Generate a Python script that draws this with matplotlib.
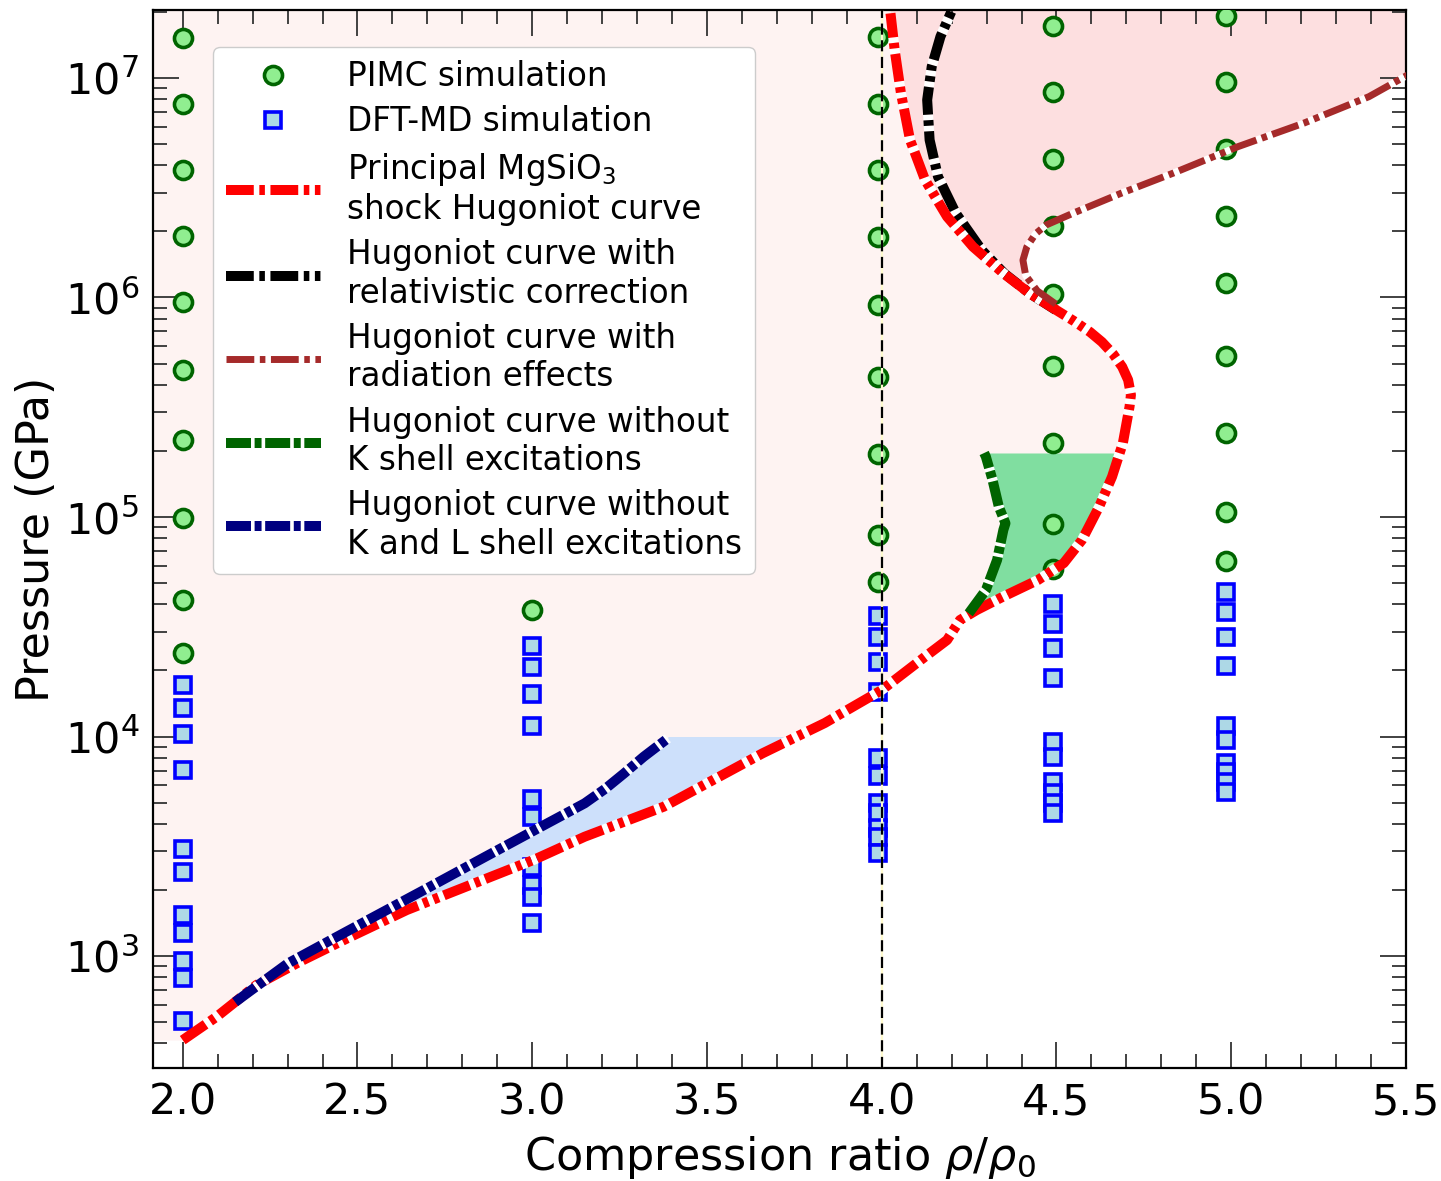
import numpy as np
import matplotlib
matplotlib.use('Agg')
import matplotlib.pyplot as plt
from matplotlib.ticker import MultipleLocator, LogLocator, NullFormatter

# ---------------- data ----------------
# PIMC simulation points (compression ratio, pressure in GPa)
pimc_rho_2 = 2.0
pimc_P_2 = [1.52e7, 7.61e6, 3.81e6, 1.91e6, 9.54e5, 4.67e5, 2.24e5, 9.89e4, 4.19e4, 2.40e4]
pimc_rho_3 = 3.0
pimc_P_3 = [3.77e4]
pimc_rho_4 = 3.99
pimc_P_4 = [1.53e7, 7.64e6, 3.81e6, 1.89e6, 9.27e5, 4.36e5, 1.94e5, 8.28e4, 5.04e4]
pimc_rho_45 = 4.49
pimc_P_45 = [1.73e7, 8.60e6, 4.29e6, 2.12e6, 1.04e6, 4.87e5, 2.17e5, 9.29e4, 5.80e4]
pimc_rho_5 = 4.985
pimc_P_5 = [1.92e7, 9.56e6, 4.75e6, 2.36e6, 1.16e6, 5.43e5, 2.41e5, 1.05e5, 6.30e4]

# DFT-MD simulation points
dft_rho_2 = 2.0
dft_P_2 = [1.72e4, 1.35e4, 1.03e4, 7.06e3, 3.07e3, 2.41e3, 1.54e3, 1.27e3, 949, 794, 506]
dft_rho_3 = 3.0
dft_P_3 = [2.59e4, 2.08e4, 1.57e4, 1.12e4, 5.19e3, 4.28e3, 2.55e3, 2.11e3, 1.85e3, 1.41e3]
dft_rho_4 = 3.99
dft_P_4 = [3.54e4, 2.85e4, 2.19e4, 1.59e4, 7.96e3, 6.63e3, 4.96e3, 4.47e3, 3.83e3, 3.50e3, 2.94e3]
dft_rho_45 = 4.49
dft_P_45 = [4.01e4, 3.25e4, 2.52e4, 1.84e4, 9.47e3, 8.04e3, 6.18e3, 5.55e3, 4.99e3, 4.47e3]
dft_rho_5 = 4.985
dft_P_5 = [4.54e4, 3.68e4, 2.85e4, 2.10e4, 1.12e4, 9.64e3, 7.55e3, 6.91e3, 6.23e3, 5.60e3]

# Principal Hugoniot curve
red_rho = [2.000, 2.097, 2.211, 2.335, 2.471, 2.641, 2.810, 3.003, 3.150, 3.376, 3.659, 3.837,
           4.000, 4.124, 4.187, 4.224, 4.272, 4.347, 4.447, 4.521, 4.573, 4.622, 4.659, 4.690,
           4.709, 4.713, 4.705, 4.688, 4.662, 4.630, 4.596, 4.550, 4.499, 4.423, 4.348, 4.261,
           4.187, 4.124, 4.081, 4.055, 4.037, 4.025]
red_P = [414, 529, 738, 942, 1204, 1620, 2069, 2737, 3495, 4788, 8385, 11520,
         16280, 23100, 27520, 33950, 37700, 43350, 51640, 61720, 78590, 1.114e5, 1.526e5, 2.174e5,
         3.18e5, 3.60e5, 4.21e5, 4.83e5, 5.53e5, 6.27e5, 6.96e5, 7.81e5, 8.77e5, 1.045e6, 1.289e6, 1.703e6,
         2.334e6, 3.43e6, 5.22e6, 8.52e6, 1.342e7, 1.971e7]

# Hugoniot with relativistic correction
black_rho = [4.498, 4.423, 4.350, 4.286, 4.212, 4.161, 4.137, 4.130, 4.143, 4.168, 4.199]
black_P = [8.77e5, 1.045e6, 1.289e6, 1.645e6, 2.419e6, 3.551e6, 5.22e6, 7.94e6, 1.126e7, 1.543e7, 2.004e7]

# Hugoniot with radiation effects
brown_rho = [4.498, 4.445, 4.412, 4.404, 4.415, 4.440, 4.470, 4.547, 4.685, 4.833, 5.019, 5.207, 5.394, 5.505]
brown_P = [9.33e5, 1.072e6, 1.259e6, 1.479e6, 1.698e6, 1.950e6, 2.138e6, 2.419e6, 2.984e6, 3.68e6,
           4.864e6, 6.22e6, 8.22e6, 1.032e7]

# Hugoniot without K shell excitations
green_rho = [4.249, 4.298, 4.330, 4.348, 4.354, 4.335, 4.317, 4.298, 4.293]
green_P = [3.64e4, 4.65e4, 6.37e4, 8.73e4, 9.36e4, 1.114e5, 1.475e5, 1.882e5, 1.957e5]

# Hugoniot without K and L shell excitations
navy_rho = [2.150, 2.188, 2.301, 2.415, 2.539, 2.698, 2.867, 3.014, 3.150, 3.208, 3.263, 3.319, 3.388]
navy_P = [617, 684, 926, 1162, 1485, 2030, 2840, 3797, 4962, 5766, 6797, 8091, 9813]

labels = ["PIMC simulation", "DFT-MD simulation",
          "Principal MgSiO$_3$\nshock Hugoniot curve",
          "Hugoniot curve with\nrelativistic correction",
          "Hugoniot curve with\nradiation effects",
          "Hugoniot curve without\nK shell excitations",
          "Hugoniot curve without\nK and L shell excitations"]

x_limits = (1.915, 5.5)
y_limits = (309, 2.04e7)

# ---------------- figure ----------------
plt.rcParams['lines.scale_dashes'] = False
fig = plt.figure(figsize=(14.41, 11.81), dpi=100)
ax = fig.add_axes([153/1441, 1 - 1068/1181, (1406-153)/1441, (1068-10)/1181])
ax.set_yscale('log')
ax.set_xlim(*x_limits)
ax.set_ylim(*y_limits)

lr = np.log10(red_P)
def red_at(P):
    return np.interp(np.log10(P), lr, red_rho)

# light pink region left of principal Hugoniot
Pg = np.logspace(np.log10(red_P[0]), np.log10(y_limits[1]) + 0.01, 800)
ax.fill_betweenx(Pg, 1.8, red_at(Pg), color='#fef3f2', lw=0, zorder=0)

# darker pink region between Hugoniot and radiation curve
Pg2 = np.logspace(np.log10(brown_P[0]), np.log10(y_limits[1]) + 0.01, 600)
xb = np.interp(np.log10(Pg2), np.log10(brown_P), brown_rho)
xb = np.where(Pg2 > brown_P[-1], 5.6, xb)
ax.fill_betweenx(Pg2, red_at(Pg2), xb, color='#fddfe0', lw=0, zorder=0.5)

# blue region
Pg3 = np.logspace(np.log10(navy_P[0]), 4.0, 300)
ax.fill_betweenx(Pg3, np.interp(np.log10(Pg3), np.log10(navy_P), navy_rho), red_at(Pg3),
                 color='#cde0fb', lw=0, zorder=0.6)

# green region
Pg4 = np.logspace(np.log10(green_P[0]), np.log10(green_P[-1]), 300)
ax.fill_betweenx(Pg4, np.interp(np.log10(Pg4), np.log10(green_P), green_rho), red_at(Pg4),
                 color='#80dea0', lw=0, zorder=0.6)

# simulation points
pimc_kw = dict(ls='none', marker='o', ms=13, mfc='#90ee90', mec='#006400', mew=2.6, zorder=3)
dft_kw = dict(ls='none', marker='s', ms=11.5, mfc='#add8e6', mec='#0000ff', mew=2.6, zorder=3)
h_pimc, = ax.plot([pimc_rho_2]*len(pimc_P_2), pimc_P_2, **pimc_kw)
for r, P in [(pimc_rho_3, pimc_P_3), (pimc_rho_4, pimc_P_4), (pimc_rho_45, pimc_P_45), (pimc_rho_5, pimc_P_5)]:
    ax.plot([r]*len(P), P, **pimc_kw)
h_dft, = ax.plot([dft_rho_2]*len(dft_P_2), dft_P_2, **dft_kw)
for r, P in [(dft_rho_3, dft_P_3), (dft_rho_4, dft_P_4), (dft_rho_45, dft_P_45), (dft_rho_5, dft_P_5)]:
    ax.plot([r]*len(P), P, **dft_kw)

dd = (0, (20, 4, 4, 4, 20, 4, 4, 4, 4, 4))
gd = (0, (18, 2.6, 5, 2.6))
common = dict(gapcolor='white', dash_capstyle='butt', solid_joinstyle='round', dash_joinstyle='round')
h_black, = ax.plot(black_rho, black_P, color='black', lw=7.2, ls=dd, zorder=4, **common)
h_red, = ax.plot(red_rho, red_P, color='red', lw=7.2, ls=dd, zorder=4.2, **common)
h_navy, = ax.plot(navy_rho, navy_P, color='#000080', lw=7.2, ls=gd, zorder=4.4, **common)
h_green, = ax.plot(green_rho, green_P, color='#006400', lw=7.2, ls=gd, zorder=4.4, **common)
h_brown, = ax.plot(brown_rho, brown_P, color='#a52a2a', lw=5.0, ls=dd, zorder=4.6, **common)

# vertical line at rho/rho0 = 4
ax.axvline(4.0, color='#fffbd0', lw=1.6, zorder=5)
ax.axvline(4.0, color='black', lw=1.6, ls=(0, (8, 4)), zorder=5.1)

# axes styling
ax.xaxis.set_major_locator(MultipleLocator(0.5))
ax.xaxis.set_minor_locator(MultipleLocator(0.1))
ax.yaxis.set_major_locator(LogLocator(base=10, numticks=20))
ax.yaxis.set_minor_locator(LogLocator(base=10, subs=np.arange(2, 10), numticks=20))
ax.yaxis.set_minor_formatter(NullFormatter())
ax.tick_params(which='both', direction='in', top=True, right=True, width=1.3, color='#333333')
ax.tick_params(which='major', length=19, labelsize=31, pad=10)
ax.tick_params(which='minor', length=10)
for s in ax.spines.values():
    s.set_linewidth(1.6)

ax.set_xlabel(r'Compression ratio $\rho/\rho_0$', fontsize=32, labelpad=7)
ax.set_ylabel('Pressure (GPa)', fontsize=32, labelpad=5)

leg = ax.legend([h_pimc, h_dft, h_red, h_black, h_brown, h_green, h_navy], labels,
                loc='upper left', bbox_to_anchor=(0.0479, 0.965), borderaxespad=0,
                fontsize=23.5, handlelength=2.9, handletextpad=0.8, labelspacing=0.38,
                numpoints=1, framealpha=1.0, edgecolor='#cccccc', fancybox=True)
leg.set_zorder(10)

fig.savefig('out.png', dpi=100)
